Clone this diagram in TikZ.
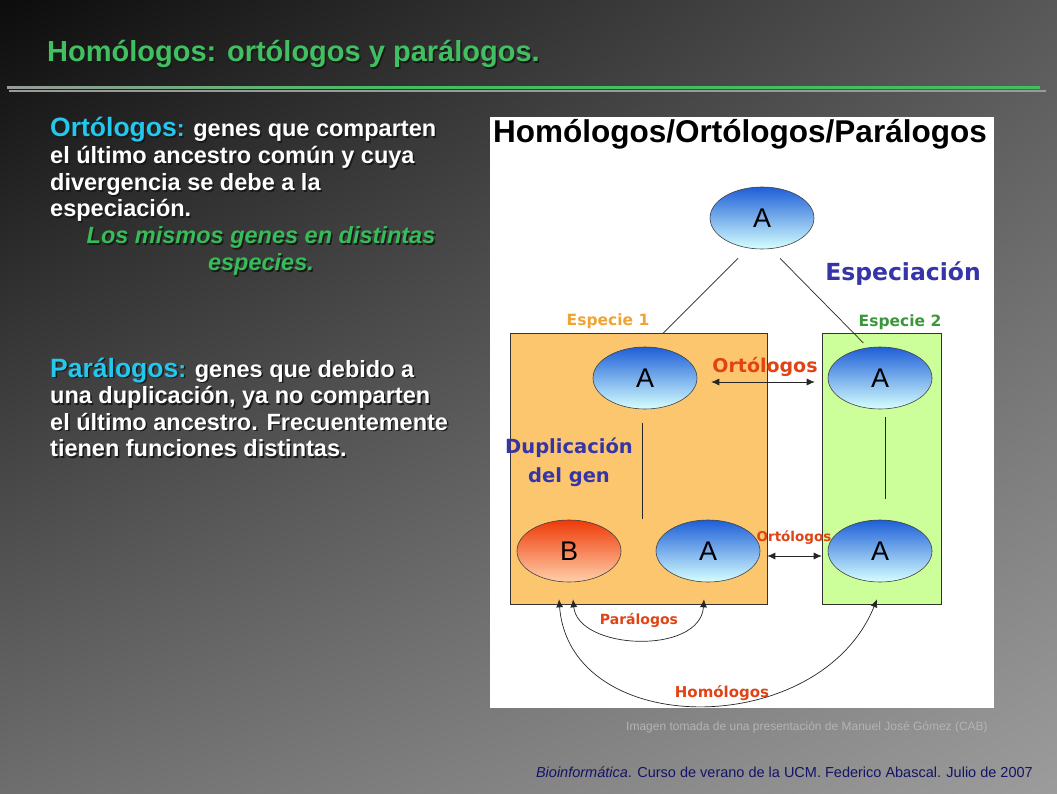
\documentclass[tikz,border=0pt]{standalone}
\usepackage{fontspec}
\setmainfont{Liberation Sans}
\newfontfamily\dvs{DejaVu Sans}
\usetikzlibrary{shapes.geometric,arrows.meta,shadings}

\definecolor{bgTL}{HTML}{0C0C0C}
\definecolor{bgTR}{HTML}{585858}
\definecolor{bgBL}{HTML}{6E6E6E}
\definecolor{bgBR}{HTML}{9C9C9C}
\definecolor{titlegreen}{HTML}{40C060}
\definecolor{linegray}{HTML}{9A9A9A}
\definecolor{ortcyan}{HTML}{22C8EE}
\definecolor{notegreen}{HTML}{36BC58}
\definecolor{geneblue}{HTML}{1E5FD8}
\definecolor{genecyan}{HTML}{D6FFFF}
\definecolor{genered}{HTML}{EE3A08}
\definecolor{genepeach}{HTML}{FFCFAA}
\definecolor{sponecol}{HTML}{FCC66E}
\definecolor{sptwocol}{HTML}{CCFF99}
\definecolor{specorange}{HTML}{F0A434}
\definecolor{specgreen}{HTML}{3C963C}
\definecolor{labblue}{HTML}{3535A8}
\definecolor{labred}{HTML}{E04414}
\definecolor{footnavy}{HTML}{141466}
\definecolor{creditgray}{HTML}{B4B4B4}

\newcommand\hl[2]{\textcolor{#1}{#2}}
% text with a drop shadow: name, position, options, text
\newcommand\shnode[4]{%
  \node[#3,text=black!90,xshift=1.5pt,yshift=-1.5pt] at #2 {\def\hl##1##2{##2}#4};
  \node[#3] (#1) at #2 {#4};}

\begin{document}
\begin{tikzpicture}[x=1pt,y=-1pt,
  gene/.style={ellipse,draw=black!75,line width=0.6pt,minimum width=104pt,minimum height=62pt,inner sep=0pt,font=\fontsize{27}{27}\selectfont},
  geneA/.style={gene,top color=geneblue,bottom color=genecyan},
  geneB/.style={gene,top color=genered,bottom color=genepeach},
  txt/.style={anchor=base west,inner sep=0pt,text=white,font=\fontsize{23.5}{27}\selectfont\bfseries},
  note/.style={anchor=base,inner sep=0pt,text=notegreen,font=\fontsize{23.5}{27}\selectfont\bfseries\itshape},
  lab/.style={anchor=base,inner sep=0pt,font=\dvs\bfseries\fontsize{#1}{#1}\selectfont},
  species/.style={draw=black!80,line width=0.8pt,anchor=north west,inner sep=0pt},
  link/.style={line width=0.7pt,black!85},
  dbl/.style={link,{Latex[length=8pt,width=7pt]}-{Latex[length=8pt,width=7pt]}}]

% background
\shade[upper left=bgTL,upper right=bgTR,lower left=bgBL,lower right=bgBR] (0,0) rectangle (1057,794);

% title and rules
\shnode{title}{(47,62)}{anchor=base west,inner sep=0pt,text=titlegreen,font=\fontsize{29}{30}\selectfont\bfseries}{Homólogos: ortólogos y parálogos.}
\shade[left color=linegray,right color=titlegreen] (7,86.5) rectangle (400,89);
\fill[titlegreen] (400,86.5) rectangle (1040,89);
\fill[linegray] (9,90.5) rectangle (1046,92.5);

% left text
\shnode{ort1}{(50,137)}{txt}{\hl{ortcyan}{{\fontsize{26.5}{27}\selectfont Ortólogos}:} genes que comparten}
\shnode{ort2}{(50,164)}{txt}{el último ancestro común y cuya}
\shnode{ort3}{(50,191)}{txt}{divergencia se debe a la}
\shnode{ort4}{(50,217)}{txt}{especiación.}
\shnode{note1}{(261,244)}{note}{Los mismos genes en distintas}
\shnode{note2}{(261,271)}{note}{especies.}
\shnode{par1}{(50,377)}{txt}{\hl{ortcyan}{{\fontsize{26.5}{27}\selectfont Parálogos}:} genes que debido a}
\shnode{par2}{(50,403.5)}{txt}{una duplicación, ya no comparten}
\shnode{par3}{(50,430)}{txt}{el último ancestro. Frecuentemente}
\shnode{par4}{(50,456.5)}{txt}{tienen funciones distintas.}

% figure panel
\fill[white] (490,117) rectangle (994,708);
\node[anchor=base west,inner sep=0pt,font=\fontsize{31.5}{32}\selectfont\bfseries] (ftitle) at (493,143) {Homólogos/Ortólogos/Parálogos};

\node[species,fill=sponecol,minimum width=257pt,minimum height=271pt] (sp1) at (510,333) {};
\node[species,fill=sptwocol,minimum width=119pt,minimum height=271pt] (sp2) at (822,333) {};

\node[geneA] (anc) at (762,218) {A};
\node[geneA] (a1) at (645,378) {A};
\node[geneA] (a2) at (880,378) {A};
\node[geneB] (bdup) at (569,551) {B};
\node[geneA] (a3) at (708,551) {A};
\node[geneA] (a4) at (880,551) {A};

\node[lab=23.5,text=labblue] (espec) at (903,280) {Especiación};
\node[lab=15.5,text=specorange] (esp1) at (608,325) {Especie 1};
\node[lab=15.5,text=specgreen] (esp2) at (900,326) {Especie 2};
\node[lab=19,text=labred] (ortA) at (765,372) {Ortólogos};
\node[lab=19.5,text=labblue] (dup1) at (569,453) {Duplicación};
\node[lab=19.5,text=labblue] (dup2) at (569,482) {del gen};
\node[lab=13.5,text=labred] (ortB) at (794,541) {Ortólogos};
\node[lab=14,text=labred] (parl) at (639,624) {Parálogos};
\node[lab=15,text=labred] (homl) at (722,697) {Homólogos};

% tree lines
\draw[link] ([shift={(-24pt,-9pt)}]anc.south) -- ([xshift=24.5pt]sp1.north);
\draw[link] ([shift={(18pt,-9pt)}]anc.south) -- ([shift={(-18.5pt,-10pt)}]sp2.north);
\draw[link] ([shift={(-3pt,-14pt)}]a1.south) -- ([shift={(-66pt,1pt)}]a3.north);
\draw[link] ([shift={(5pt,-8pt)}]a2.south) -- ([shift={(5pt,21pt)}]a4.north);

% relations
\draw[dbl] ([shift={(14pt,-4pt)}]a1.east) -- ([shift={(-13pt,-4pt)}]a2.west);
\draw[dbl] ([shift={(7pt,-5pt)}]a3.east) -- ([shift={(-6pt,-5pt)}]a4.west);
\draw[dbl] ([shift={(4pt,-17pt)}]bdup.south) .. controls +(5,51) and +(-4,56) .. ([shift={(-4pt,-17pt)}]a3.south);
\draw[dbl] ([shift={(-10pt,-17pt)}]bdup.south) .. controls +(11,141) and +(-57,141) .. ([shift={(-3pt,-17pt)}]a4.south);

% footer
\node[anchor=base west,inner sep=0pt,text=creditgray,font=\fontsize{12}{12}\selectfont] (credit) at (626,730) {Imagen tomada de una presentación de Manuel José Gómez (CAB)};
\node[anchor=base east,inner sep=0pt,text=footnavy,font=\fontsize{14.5}{15}\selectfont] (foot) at (1033,777) {\textit{Bioinformática}. Curso de verano de la UCM. Federico Abascal. Julio de 2007};
\end{tikzpicture}
\end{document}
